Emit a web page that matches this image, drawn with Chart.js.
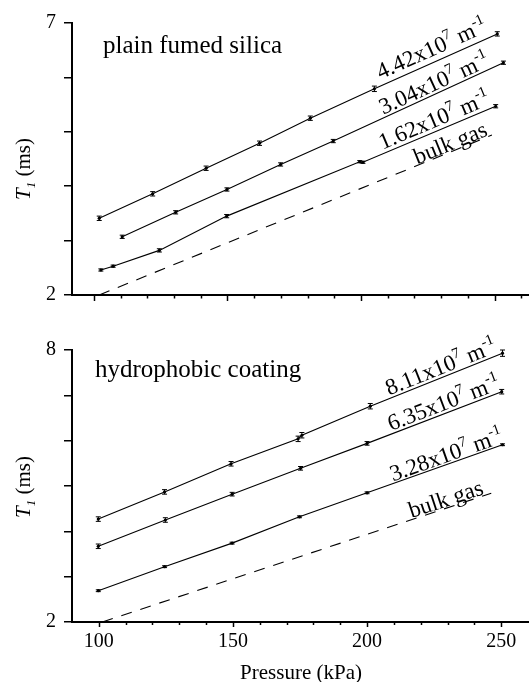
<!DOCTYPE html>
<html>
<head>
<meta charset="utf-8">
<script src="https://cdn.jsdelivr.net/npm/chart.js@4.4.1/dist/chart.umd.min.js"></script>
<style>
  html, body { margin: 0; padding: 0; background: #fff; }
  #wrap { position: relative; width: 532px; height: 682px; overflow: hidden; }
  #topBox { position: absolute; left: 0; top: 0; width: 532px; height: 330px; z-index: 2; }
  #botBox { position: absolute; left: 0; top: 310px; width: 532px; height: 372px; z-index: 1; }
</style>
</head>
<body>
<div id="wrap">
  <div id="topBox"><canvas id="topChart"></canvas></div>
  <div id="botBox"><canvas id="botChart"></canvas></div>
</div>
<script>
const SERIF = "'Liberation Serif', 'DejaVu Serif', serif";

// x tick positions (kPa), labels only on every 50
const xTickVals = [100, 110, 120, 130, 140, 150, 160, 170, 180, 190, 200, 210, 220, 230, 240, 250, 260];

// --- plain fumed silica ---
const topP442 = [102, 122, 142, 162, 181, 205, 251];
const topT442 = [3.41, 3.86, 4.33, 4.79, 5.25, 5.79, 6.80];
const topE442 = [0.04, 0.04, 0.04, 0.04, 0.04, 0.05, 0.04];
const topP304 = [110.6, 130.6, 149.8, 169.9, 189.6, 253.3];
const topT304 = [3.07, 3.52, 3.94, 4.40, 4.83, 6.27];
const topE304 = [0.03, 0.03, 0.03, 0.03, 0.03, 0.03];
const topP162 = [102.6, 107.2, 124.5, 149.7, 199.5, 200.7, 250.4];
const topT162 = [2.46, 2.53, 2.82, 3.45, 4.45, 4.44, 5.47];
const topE162 = [0.02, 0.02, 0.03, 0.03, 0.02, 0.02, 0.03];
const topPgas = [102, 249];
const topTgas = [2.0, 4.94];

// --- hydrophobic coating ---
const botP811 = [99.8, 124.5, 149.3, 174.3, 175.7, 201.2, 250.5];
const botT811 = [4.27, 4.87, 5.49, 6.04, 6.12, 6.76, 7.93];
const botE811 = [0.05, 0.05, 0.05, 0.06, 0.06, 0.06, 0.07];
const botP635 = [99.8, 124.8, 149.7, 175.2, 200, 250.2];
const botT635 = [3.67, 4.25, 4.82, 5.39, 5.94, 7.08];
const botE635 = [0.05, 0.05, 0.04, 0.04, 0.04, 0.05];
const botP328 = [99.8, 124.5, 149.7, 174.8, 200, 250.5];
const botT328 = [2.69, 3.22, 3.74, 4.32, 4.85, 5.91];
const botE328 = [0.02, 0.02, 0.02, 0.02, 0.02, 0.02];
const botPgas = [101.3, 246.3];
const botTgas = [2.0, 4.84];

function pts(xs, ys) {
  return xs.map((x, i) => ({ x: x, y: ys[i] }));
}

function series(xs, ys, errs) {
  return {
    data: pts(xs, ys),
    errs: errs,
    borderColor: '#000',
    borderWidth: 1.1,
    pointRadius: 1.6,
    pointBackgroundColor: '#000',
    pointBorderWidth: 0,
    tension: 0,
    fill: false
  };
}

function gas(xs, ys) {
  return {
    data: pts(xs, ys),
    borderColor: '#000',
    borderWidth: 1.1,
    borderDash: [11, 9],
    pointRadius: 0,
    tension: 0,
    fill: false
  };
}

function slopeText(mant) {
  return [
    { t: mant + 'x10' },
    { t: '7', sup: true },
    { t: ' m' },
    { t: '-1', sup: true }
  ];
}

// draw mixed-size text starting at (x, y) baseline
function drawRich(ctx, parts, x, y, size) {
  parts.forEach(p => {
    const s = p.sup || p.sub ? Math.round(size * 0.64) : size;
    ctx.font = (p.italic ? 'italic ' : '') + s + 'px ' + SERIF;
    const dy = p.sup ? -size * 0.42 : (p.sub ? size * 0.22 : 0);
    ctx.fillText(p.t, x, y + dy);
    x += ctx.measureText(p.t).width;
  });
}

function richWidth(ctx, parts, size) {
  let w = 0;
  parts.forEach(p => {
    const s = p.sup || p.sub ? Math.round(size * 0.64) : size;
    ctx.font = (p.italic ? 'italic ' : '') + s + 'px ' + SERIF;
    w += ctx.measureText(p.t).width;
  });
  return w;
}

const panelPlugin = {
  id: 'panel',
  afterDatasetsDraw(chart, args, opts) {
    const ctx = chart.ctx;
    const xs = chart.scales.x, ys = chart.scales.y;
    const area = chart.chartArea;
    ctx.save();
    ctx.fillStyle = '#000';
    ctx.strokeStyle = '#000';

    // error bars
    chart.data.datasets.forEach((ds, i) => {
      if (!ds.errs) return;
      const meta = chart.getDatasetMeta(i);
      ctx.lineWidth = 1;
      meta.data.forEach((pt, j) => {
        const v = ds.data[j].y, e = ds.errs[j];
        const y1 = ys.getPixelForValue(v + e), y2 = ys.getPixelForValue(v - e);
        ctx.beginPath();
        ctx.moveTo(pt.x, y1); ctx.lineTo(pt.x, y2);
        ctx.moveTo(pt.x - 2.5, y1); ctx.lineTo(pt.x + 2.5, y1);
        ctx.moveTo(pt.x - 2.5, y2); ctx.lineTo(pt.x + 2.5, y2);
        ctx.stroke();
      });
    });

    // x tick marks, major every 50
    ctx.lineWidth = 1.5;
    xs.ticks.forEach(t => {
      const px = Math.round(xs.getPixelForValue(t.value)) + 0.5;
      const len = t.value % 50 === 0 ? opts.major : opts.minor;
      ctx.beginPath();
      ctx.moveTo(px, area.bottom);
      ctx.lineTo(px, area.bottom + len);
      ctx.stroke();
    });

    // slope labels along the lines
    ctx.textBaseline = 'alphabetic';
    ctx.textAlign = 'left';
    opts.labels.forEach(lb => {
      const p = chart.getDatasetMeta(lb.ds).data;
      const px = xs.getPixelForValue(lb.at);
      let k = 0;
      while (k < p.length - 2 && p[k + 1].x < px) k++;
      const a = p[k], b = p[k + 1];
      const ang = Math.atan2(b.y - a.y, b.x - a.x);
      const py = a.y + (b.y - a.y) * (px - a.x) / (b.x - a.x);
      ctx.save();
      ctx.translate(px, py);
      ctx.rotate(ang);
      drawRich(ctx, lb.parts, 0, -lb.off, 23);
      ctx.restore();
    });

    // panel caption
    ctx.font = '25px ' + SERIF;
    ctx.fillText(opts.caption, area.left + opts.capDx, area.top + opts.capDy);

    // y title: T1 (ms)
    const yt = [
      { t: 'T', italic: true },
      { t: '1', italic: true, sub: true },
      { t: ' (ms)' }
    ];
    const w = richWidth(ctx, yt, 21);
    ctx.save();
    ctx.translate(30, area.top + opts.yTitleDy);
    ctx.rotate(-Math.PI / 2);
    drawRich(ctx, yt, -w / 2, 0, 21);
    ctx.restore();

    // x title
    if (opts.xTitle) {
      ctx.font = '21px ' + SERIF;
      ctx.textAlign = 'center';
      ctx.fillText('Pressure (kPa)', (area.left + area.right) / 2 + 1, opts.xTitleY);
    }
    ctx.restore();
  }
};

function makeChart(id, cfg) {
  return new Chart(document.getElementById(id), {
    type: 'line',
    data: { datasets: cfg.datasets },
    options: {
      responsive: true,
      maintainAspectRatio: false,
      animation: false,
      devicePixelRatio: 1,
      layout: { padding: { top: cfg.padTop, right: 1, left: 0, bottom: 0 } },
      scales: {
        x: {
          type: 'linear',
          min: cfg.xMin,
          max: cfg.xMax,
          afterBuildTicks: s => {
            s.ticks = xTickVals.filter(v => v >= s.min && v <= s.max - 2).map(v => ({ value: v }));
          },
          afterFit: s => { s.height = cfg.xH; },
          ticks: {
            display: cfg.showX,
            autoSkip: false,
            maxRotation: 0,
            minRotation: 0,
            padding: 8,
            color: '#000',
            font: { family: SERIF, size: 20 },
            callback: v => (v % 50 === 0 ? String(v) : '')
          },
          grid: { display: false, drawTicks: false },
          border: { display: true, color: '#000', width: 2 }
        },
        y: {
          min: 2,
          max: cfg.yMax,
          afterFit: s => { s.width = 72; },
          ticks: {
            stepSize: 1,
            padding: 8,
            color: '#000',
            font: { family: SERIF, size: 20 },
            callback: v => (v === 2 || v === cfg.yMax ? String(v) : '')
          },
          grid: {
            display: true,
            drawOnChartArea: false,
            drawTicks: true,
            tickLength: 8,
            color: '#000',
            lineWidth: 1.5
          },
          border: { display: true, color: '#000', width: 2 }
        }
      },
      plugins: {
        legend: { display: false },
        tooltip: { enabled: false },
        panel: cfg.panel
      }
    },
    plugins: [panelPlugin]
  });
}

makeChart('topChart', {
  xMin: 91.8, xMax: 262.5, yMax: 7, padTop: 23, xH: 35, showX: false,
  datasets: [
    series(topP442, topT442, topE442),
    series(topP304, topT304, topE304),
    series(topP162, topT162, topE162),
    gas(topPgas, topTgas)
  ],
  panel: {
    major: 6, minor: 3.5,
    caption: 'plain fumed silica', capDx: 31, capDy: 30,
    yTitleDy: 146,
    xTitle: false,
    labels: [
      { ds: 0, at: 208.2, off: 6, parts: slopeText('4.42') },
      { ds: 1, at: 208.8, off: 3, parts: slopeText('3.04') },
      { ds: 2, at: 208.6, off: 4, parts: slopeText('1.62') },
      { ds: 3, at: 221.2, off: 1, parts: [{ t: 'bulk gas' }] }
    ]
  }
});

makeChart('botChart', {
  xMin: 90, xMax: 260, yMax: 8, padTop: 40, xH: 60, showX: true,
  datasets: [
    series(botP811, botT811, botE811),
    series(botP635, botT635, botE635),
    series(botP328, botT328, botE328),
    gas(botPgas, botTgas)
  ],
  panel: {
    major: 5, minor: 3,
    caption: 'hydrophobic coating', capDx: 23, capDy: 27,
    yTitleDy: 137,
    xTitle: true, xTitleY: 369,
    labels: [
      { ds: 0, at: 208.6, off: 3, parts: slopeText('8.11') },
      { ds: 1, at: 209.3, off: 3, parts: slopeText('6.35') },
      { ds: 2, at: 209.9, off: 2, parts: slopeText('3.28') },
      { ds: 3, at: 216.7, off: 1.5, parts: [{ t: 'bulk gas' }] }
    ]
  }
});
</script>
</body>
</html>
